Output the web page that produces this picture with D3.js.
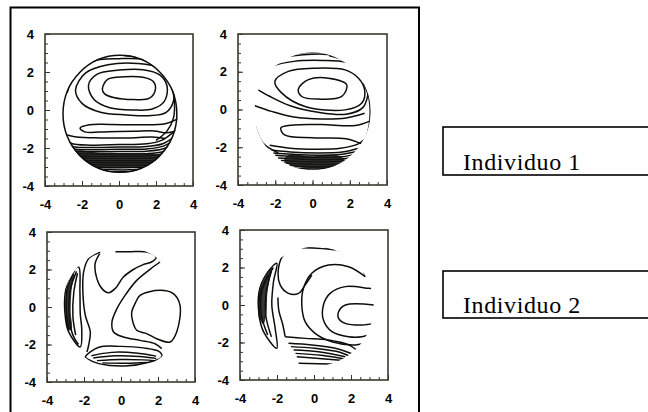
<!DOCTYPE html>
<html>
<head>
<meta charset="utf-8">
<script src="https://cdn.jsdelivr.net/npm/d3@7"></script>
<style>
  html, body { margin: 0; padding: 0; background: #fff; }
  svg { display: block; }
</style>
</head>
<body>
<svg id="chart" width="648" height="412"></svg>
<script>
// ---- data (map coordinates, -4..4 on both axes) ----
const axisTicks = [-4, -2, 0, 2, 4];
const minorTicks = [-4, -3.5, -3, -2.5, -2, -1.5, -1, -0.5, 0, 0.5, 1, 1.5, 2, 2.5, 3, 3.5, 4];
const groupLabels = ["Individuo 1", "Individuo 2"];

// pupil zone of each map: [cx, cy, r]
const zoneA = [0.05, -0.2, 3.12];
const zoneB = [0.0, -0.1, 3.12];
const zoneC = [0.1, -0.1, 3.3];
const zoneD = [0.05, -0.07, 3.18];

// iso-lines, map A (Individuo 1, left); "dense" marks tightly packed steep zones
const linesA = [
  {closed: true, pts: [[-0.9,1.1],[-0.6,1.62],[0.3,1.75],[1.3,1.72],[1.85,1.5],[1.97,1.1],[1.65,0.62],[0.8,0.55],[-0.3,0.66],[-0.78,0.85]]},
  {closed: true, pts: [[-1.65,1.3],[-1.2,1.88],[0,2.1],[1.3,2.12],[2.2,1.85],[2.6,1.25],[2.45,0.45],[1.8,0.05],[0.8,0.0],[-0.5,0.12],[-1.35,0.55]]},
  {closed: true, pts: [[-2.35,1.05],[-1.8,1.95],[-0.6,2.38],[1.0,2.45],[2.2,2.2],[2.85,1.45],[2.95,0.5],[2.55,-0.12],[1.6,-0.3],[0.4,-0.26],[-1.0,-0.12],[-2.0,0.35]]},
  {closed: false, pts: [[-2.8,0.9],[-2.4,1.9],[-1.5,2.55],[0,2.7],[1.4,2.65],[2.4,2.2],[2.9,1.4]]},
  {closed: false, pts: [[0.3,2.85],[1.5,2.75],[2.3,2.35],[2.75,1.8]]},
  {closed: false, pts: [[0.8,2.95],[1.8,2.78],[2.5,2.32]]},
  {closed: false, pts: [[1.2,3.0],[2.0,2.8],[2.6,2.4]]},
  {closed: false, pts: [[3.2,-0.45],[2.5,-0.72],[1.2,-0.78],[-0.5,-0.76],[-1.6,-0.78],[-2.1,-0.95],[-1.85,-1.15],[-0.6,-1.14],[0.8,-1.12],[1.9,-1.1],[2.6,-1.2],[3.2,-1.05]]},
  {closed: false, pts: [[2.75,1.6],[2.98,0.6],[2.95,-0.4],[2.6,-1.1],[2.0,-1.6]]},
  {closed: false, pts: [[-3.1,-1.25],[-2.3,-1.42],[-1.0,-1.47],[0.5,-1.47],[1.8,-1.42],[2.5,-1.5]]},
  {closed: false, pts: [[-3.2,-1.3],[-2.6,-1.75],[-1.5,-1.85],[0,-1.82],[1.5,-1.78],[2.3,-1.6],[2.9,-1.2],[3.3,-0.9]]},
  {closed: false, pts: [[-3.2,-1.45],[-2.5,-1.92],[-1.5,-1.97],[0,-1.95],[1.5,-1.92],[2.4,-1.76],[3.2,-1.25]]},
  {closed: false, pts: [[-3.1,-1.6],[-2.45,-2.04],[-1.5,-2.09],[0,-2.07],[1.5,-2.05],[2.4,-1.9],[3.2,-1.45]]},
  {closed: false, pts: [[-3.1,-1.75],[-2.4,-2.15],[-1.5,-2.2],[0,-2.19],[1.5,-2.17],[2.4,-2.04],[3.2,-1.65]]},
  {closed: false, pts: [[-3.0,-1.95],[-2.3,-2.27],[-1.5,-2.32],[0,-2.31],[1.5,-2.3],[2.4,-2.18],[3.1,-1.85]]},
  {closed: false, pts: [[-2.95,-2.1],[-2.25,-2.39],[-1.5,-2.44],[0,-2.43],[1.5,-2.42],[2.35,-2.32],[3.05,-2.05]]},
  {closed: false, pts: [[-2.9,-2.25],[-2.2,-2.5],[-1.5,-2.55],[0,-2.55],[1.5,-2.54],[2.3,-2.46],[3.0,-2.22]]},
  {closed: false, pts: [[-2.8,-2.45],[-2.0,-2.63],[-1.0,-2.67],[0.5,-2.67],[1.6,-2.66],[2.3,-2.6],[2.9,-2.4]]},
  {closed: false, pts: [[-2.7,-2.6],[-1.9,-2.74],[-0.8,-2.78],[0.8,-2.78],[2.0,-2.74],[2.8,-2.55]]},
  {closed: false, pts: [[-2.6,-2.72],[-1.8,-2.86],[-0.5,-2.9],[1.0,-2.9],[2.2,-2.85],[2.7,-2.72]]},
  {closed: false, pts: [[-2.4,-2.9],[-1.5,-2.99],[0,-3.03],[1.5,-3.01],[2.4,-2.92]]},
  {closed: false, pts: [[-2.1,-3.05],[-1.0,-3.12],[0.5,-3.15],[1.8,-3.08]]},
  {closed: false, pts: [[-1.6,-3.2],[-0.5,-3.25],[1.0,-3.25]]},
  {closed: true, dense: true, pts: [[-2.4,-2.2],[-1.0,-2.28],[0.5,-2.3],[1.6,-2.32],[2.2,-2.45],[2.0,-2.8],[1.0,-3.0],[-0.5,-3.05],[-1.8,-2.95],[-2.5,-2.6]]}
];

// iso-lines, map B (Individuo 1, right)
const linesB = [
  {closed: true, pts: [[-0.76,1.08],[-0.22,1.58],[0.85,1.66],[1.84,1.31],[1.57,0.69],[0.31,0.55],[-0.58,0.69]]},
  {closed: true, pts: [[-2.02,1.49],[-1.3,2.02],[0.13,2.19],[1.75,2.1],[2.47,1.66],[2.8,1.04],[2.65,0.34],[1.75,-0.02],[-0.4,0.16],[-1.66,0.88]]},
  {closed: false, pts: [[-2.7,1.85],[-2.1,2.3],[-1.0,2.55],[0.5,2.6],[1.8,2.5],[2.6,2.1],[3.0,1.5]]},
  {closed: false, pts: [[-3.1,1.15],[-2.3,0.7],[-1.2,0.2],[0.3,-0.15],[1.8,-0.25],[2.7,0.1],[3.0,0.9]]},
  {closed: false, pts: [[-3.1,0.2],[-2.2,-0.1],[-1.0,-0.4],[0.5,-0.5],[1.8,-0.45],[2.8,-0.2]]},
  {closed: false, pts: [[3.1,-0.6],[2.3,-0.85],[0.5,-0.8],[-1.0,-0.82],[-1.7,-0.97],[-1.5,-1.35],[0,-1.5],[1.8,-1.55],[2.7,-1.85]]},
  {closed: false, pts: [[2.75,1.4],[3.05,0.5],[3.05,-0.8],[2.8,-1.7]]},
  {closed: false, pts: [[-3.1,-0.81],[-2.65,-1.79],[-1.84,-2.3]]},
  {closed: false, pts: [[-2.3,-1.9],[-1.2,-2.05],[0.3,-2.1],[1.5,-2.05],[2.4,-1.85],[2.9,-1.5]]},
  {closed: false, pts: [[-2.2,-2.15],[-1.2,-2.25],[0.3,-2.3],[1.6,-2.25],[2.5,-2.05]]},
  {closed: false, pts: [[-2.1,-2.3],[-1.1,-2.37],[0.3,-2.42],[1.6,-2.37],[2.45,-2.2]]},
  {closed: false, pts: [[-2.0,-2.43],[-1.0,-2.5],[0.3,-2.54],[1.6,-2.5],[2.4,-2.35]]},
  {closed: false, pts: [[-1.85,-2.57],[-0.8,-2.62],[0.5,-2.66],[1.6,-2.62],[2.25,-2.5]]},
  {closed: false, pts: [[-1.7,-2.7],[-0.7,-2.75],[0.5,-2.78],[1.5,-2.74],[2.1,-2.64]]},
  {closed: false, pts: [[-1.55,-2.83],[-0.6,-2.88],[0.5,-2.91],[1.5,-2.87],[1.95,-2.78]]},
  {closed: false, pts: [[-1.3,-2.97],[0,-3.03],[1.3,-2.99],[1.8,-2.9]]},
  {closed: false, pts: [[-1.0,-3.1],[0,-3.15],[1.2,-3.1]]},
  {closed: true, dense: true, pts: [[-1.3,-2.45],[0,-2.5],[1.3,-2.45],[1.7,-2.7],[1.2,-3.0],[0,-3.1],[-1.1,-2.95],[-1.5,-2.7]]},
  {closed: false, pts: [[-2.2,2.35],[-1.5,2.75],[-0.5,2.9],[0.8,2.92],[1.7,2.7],[2.2,2.35]]},
  {closed: false, pts: [[-1.6,2.85],[-0.5,3.0],[0.8,3.02],[1.6,2.88]]},
  {closed: false, pts: [[0.9,2.85],[1.6,2.65],[2.1,2.3]]}
];

// iso-lines, map C (Individuo 2, left)
const linesC = [
  {closed: true, pts: [[1.03,0.62],[2.11,0.89],[2.83,0.71],[3.19,0.09],[3.01,-1.33],[2.65,-1.87],[1.93,-1.69],[1.39,-1.42],[0.85,-1.24],[0.67,-0.89],[0.58,-0.27],[0.76,0.18]]},
  {closed: false, pts: [[-1.12,2.93],[-1.75,2.58],[-2.02,1.87],[-2.06,0.8],[-1.93,-0.44],[-1.66,-1.33],[-1.75,-2.04],[-1.84,-2.4]]},
  {closed: false, pts: [[-0.3,2.95],[0.5,2.95],[1.4,2.93],[1.9,2.65],[1.65,2.4],[1.2,2.26],[0.67,2.0],[0.13,1.6],[-0.3,1.0],[-0.67,0.76],[-1.03,0.98],[-1.3,1.5],[-1.4,2.3],[-1.15,2.85]]},
  {closed: false, pts: [[2.11,2.4],[1.57,2.01],[0.85,1.42],[0.22,0.62],[-0.22,-0.09],[-0.49,-0.8],[-0.4,-1.33],[0.13,-1.6],[1.03,-1.78],[1.84,-1.96],[2.2,-2.22]]},
  {closed: true, pts: [[-1.93,-2.67],[-1.2,-2.15],[0,-2.1],[1.2,-2.18],[2.1,-2.4],[2.2,-2.65],[1.5,-2.95],[0.2,-3.15],[-1.2,-3.02],[-1.8,-2.78]]},
  {closed: false, pts: [[-1.6,-2.6],[-0.5,-2.42],[0.8,-2.45],[1.9,-2.62]]},
  {closed: false, pts: [[-1.5,-2.72],[-0.3,-2.6],[1.0,-2.64],[1.9,-2.74]]},
  {closed: false, pts: [[-1.3,-2.86],[0,-2.8],[1.2,-2.82],[1.8,-2.86]]},
  {closed: false, pts: [[-1.0,-2.98],[0.3,-3.0],[1.4,-2.96]]},
  {closed: true, pts: [[-2.29,2.13],[-2.74,1.69],[-3.01,0.8],[-3.02,-0.44],[-2.83,-1.33],[-2.2,-2.13],[-2.12,-1.2],[-2.2,-0.4],[-2.22,0.8]]},
  {closed: false, pts: [[-2.4,1.9],[-2.75,0.9],[-2.8,-0.5],[-2.6,-1.5],[-2.3,-2.0]]},
  {closed: false, pts: [[-2.35,1.8],[-2.55,0.8],[-2.6,-0.5],[-2.45,-1.5]]},
  {closed: false, pts: [[-2.5,1.95],[-2.9,1.0],[-2.95,-0.3],[-2.8,-1.2]]},
  {closed: true, dense: true, pts: [[-2.55,1.75],[-2.9,0.9],[-2.98,-0.3],[-2.85,-1.2],[-2.7,-1.2],[-2.75,-0.2],[-2.7,0.9]]}
];

// iso-lines, map D (Individuo 2, right)
const linesD = [
  {closed: false, pts: [[3.3,0.0],[1.7,0.0],[1.33,-0.36],[1.33,-0.71],[1.69,-0.98],[2.6,-1.07],[3.3,-0.98]]},
  {closed: false, pts: [[3.3,0.85],[2.95,0.89],[1.69,0.98],[0.87,0.62],[0.51,0.0],[0.51,-0.8],[0.97,-1.42],[1.87,-1.69],[2.59,-1.69],[3.2,-1.5]]},
  {closed: false, pts: [[2.77,1.51],[1.87,2.04],[0.78,2.13],[-0.12,1.69],[-0.57,0.89],[-0.66,0.0],[-0.48,-0.89],[0.06,-1.51],[0.97,-1.96],[2.23,-2.13],[2.8,-2.0]]},
  {closed: false, pts: [[-0.66,3.05],[1.15,2.93],[2.05,2.67],[2.59,2.04],[2.77,1.51]]},
  {closed: false, pts: [[0.6,3.05],[1.5,2.95],[2.1,2.75]]},
  {closed: false, pts: [[-1.02,3.02],[-1.65,2.67],[-1.92,1.96],[-1.83,1.07],[-1.38,0.62],[-0.84,0.62],[-0.48,1.07],[-0.12,1.6]]},
  {closed: false, pts: [[-1.95,0.4],[-1.9,-0.3],[-1.7,-1.0],[-1.56,-1.69]]},
  {closed: false, pts: [[-1.56,-1.69],[-0.48,-1.78],[0.78,-1.87],[1.87,-2.13],[2.41,-2.49]]},
  {closed: false, pts: [[-1.38,-2.04],[-0.12,-2.13],[1.15,-2.31],[2.23,-2.67]]},
  {closed: false, pts: [[-1.25,-2.22],[0.05,-2.31],[1.4,-2.52],[2.05,-2.8]]},
  {closed: false, pts: [[-1.1,-2.4],[0.24,-2.49],[1.69,-2.76]]},
  {closed: false, pts: [[-1.0,-2.58],[0.4,-2.68],[1.8,-2.9]]},
  {closed: false, pts: [[-0.93,-2.76],[0.6,-2.88],[1.87,-2.99]]},
  {closed: false, pts: [[-0.84,-3.11],[1.33,-3.16]]},
  {closed: true, pts: [[-2.01,2.22],[-2.64,1.6],[-2.97,0.71],[-2.97,-0.53],[-2.73,-1.42],[-2.01,-2.31],[-2.1,-1.24],[-2.28,0.0],[-2.19,1.24]]},
  {closed: false, pts: [[-2.2,2.0],[-2.8,0.8],[-2.85,-0.5],[-2.5,-1.6]]},
  {closed: false, pts: [[-2.3,1.8],[-2.6,0.6],[-2.6,-0.6],[-2.3,-1.7]]},
  {closed: false, pts: [[-2.5,1.6],[-2.95,0.4],[-2.93,-0.8]]},
  {closed: true, dense: true, pts: [[-2.3,2.0],[-2.75,1.3],[-2.97,0.4],[-2.95,-0.5],[-2.75,-1.0],[-2.6,-0.4],[-2.55,0.6],[-2.4,1.5]]}
];

// ---- layout ----
const panels = [
  {box: [45, 193, 34, 186], lines: linesA, zone: zoneA, outline: true},
  {box: [238, 387, 34, 185], lines: linesB, zone: zoneB, outline: false},
  {box: [47, 195, 232, 382], lines: linesC, zone: zoneC, outline: false},
  {box: [240, 388, 230, 380], lines: linesD, zone: zoneD, outline: false}
];

const svg = d3.select("#chart");
svg.append("rect").attr("width", 648).attr("height", 412).attr("fill", "#fff");

// outer frame round the four maps
svg.append("rect")
  .attr("x", 10.5).attr("y", 7.5).attr("width", 408.5).attr("height", 420)
  .attr("fill", "none").attr("stroke", "#000").attr("stroke-width", 2);

const fmt = d => String(d);

panels.forEach((p, i) => {
  const [x0, x1, y0, y1] = p.box;
  const xs = d3.scaleLinear().domain([-4, 4]).range([x0, x1]);
  const ys = d3.scaleLinear().domain([-4, 4]).range([y1, y0]);
  const g = svg.append("g");

  // pupil zone clip
  const [cx, cy, r] = p.zone;
  const clipId = "zone" + i;
  g.append("clipPath").attr("id", clipId)
    .append("ellipse")
    .attr("cx", xs(cx)).attr("cy", ys(cy))
    .attr("rx", xs(cx + r) - xs(cx)).attr("ry", ys(cy) - ys(cy + r));

  const lineOpen = d3.line().x(d => xs(d[0])).y(d => ys(d[1])).curve(d3.curveCatmullRom.alpha(0.5));
  const lineClosed = d3.line().x(d => xs(d[0])).y(d => ys(d[1])).curve(d3.curveCatmullRomClosed.alpha(0.5));

  const iso = g.append("g").attr("clip-path", `url(#${clipId})`);
  iso.selectAll("path")
    .data(p.lines)
    .join("path")
    .attr("d", d => (d.closed ? lineClosed : lineOpen)(d.pts))
    .attr("fill", d => d.dense ? "#141410" : "none")
    .attr("fill-opacity", d => d.dense ? 0.85 : null)
    .attr("stroke", "#0d0d0a")
    .attr("stroke-width", d => d.dense ? 0.8 : 1.5)
    .attr("stroke-linejoin", "round");

  if (p.outline) {
    g.append("ellipse")
      .attr("cx", xs(cx)).attr("cy", ys(cy))
      .attr("rx", xs(cx + r) - xs(cx) - 0.8).attr("ry", ys(cy) - ys(cy + r) - 0.8)
      .attr("fill", "none").attr("stroke", "#0d0d0a").attr("stroke-width", 1.5);
  }

  // minor ticks (inward)
  g.append("g").attr("transform", `translate(0,${y1})`)
    .call(d3.axisBottom(xs).tickValues(minorTicks).tickSizeInner(-3).tickSizeOuter(0).tickFormat(""))
    .call(a => a.select(".domain").remove());
  g.append("g").attr("transform", `translate(${x0},0)`)
    .call(d3.axisLeft(ys).tickValues(minorTicks).tickSizeInner(-3).tickSizeOuter(0).tickFormat(""))
    .call(a => a.select(".domain").remove());

  // major ticks with labels
  const xa = g.append("g").attr("transform", `translate(0,${y1})`)
    .call(d3.axisBottom(xs).tickValues(axisTicks).tickSizeInner(-5).tickSizeOuter(0).tickPadding(14).tickFormat(fmt));
  const ya = g.append("g").attr("transform", `translate(${x0},0)`)
    .call(d3.axisLeft(ys).tickValues(axisTicks).tickSizeInner(-5).tickSizeOuter(0).tickPadding(11).tickFormat(fmt));
  [xa, ya].forEach(a => {
    a.select(".domain").remove();
    a.selectAll("text").attr("font-family", "'Liberation Sans', Arial, sans-serif")
      .attr("font-weight", "bold").attr("font-size", 13).attr("fill", "#000");
  });
  g.selectAll(".tick line").attr("stroke", "#333").attr("stroke-width", 1);

  // plot frame
  g.append("rect")
    .attr("x", x0).attr("y", y0).attr("width", x1 - x0).attr("height", y1 - y0)
    .attr("fill", "none").attr("stroke", "#3a3a2e").attr("stroke-width", 1.6);
});

// group labels
const labelBoxes = [[443, 127, 48], [443, 271, 47]];
labelBoxes.forEach(([x, y, h], i) => {
  svg.append("rect").attr("x", x).attr("y", y).attr("width", 230).attr("height", h)
    .attr("fill", "none").attr("stroke", "#000").attr("stroke-width", 1.6);
  svg.append("text").attr("x", x + 20).attr("y", y + h - 5)
    .attr("font-family", "'Liberation Serif', 'Times New Roman', serif")
    .attr("font-size", 24).attr("letter-spacing", 0.6).attr("fill", "#000")
    .text(groupLabels[i]);
});
</script>
</body>
</html>
